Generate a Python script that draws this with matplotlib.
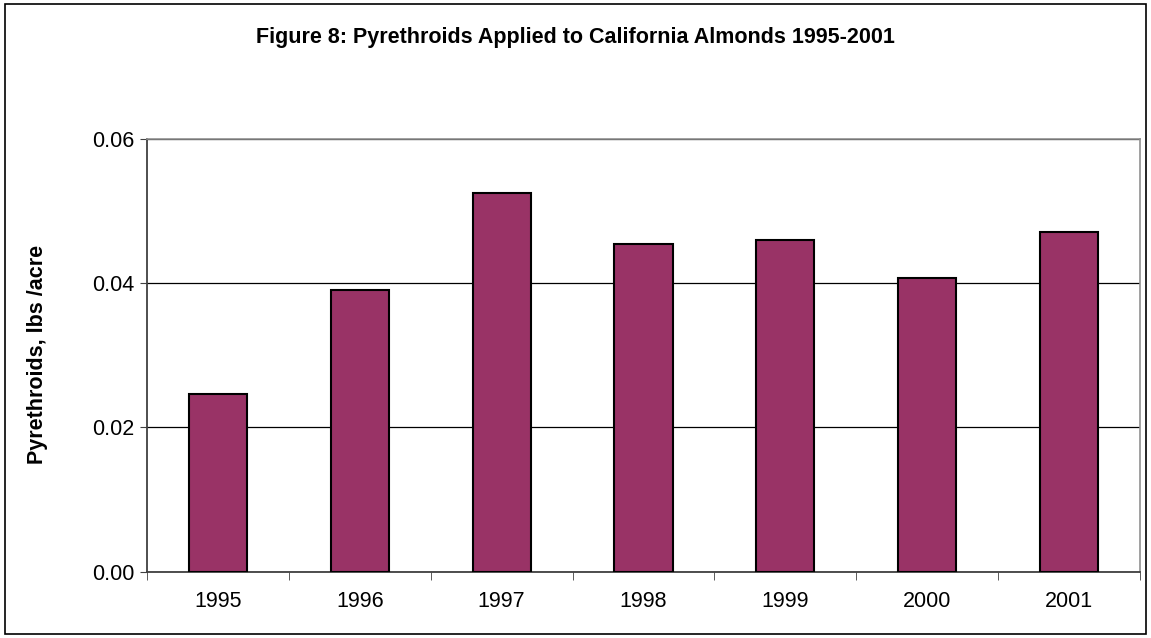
import matplotlib
matplotlib.use("Agg")
import matplotlib.pyplot as plt
from matplotlib.patches import Rectangle
import numpy as np

years = ["1995", "1996", "1997", "1998", "1999", "2000", "2001"]
values = [0.0246, 0.0390, 0.0525, 0.0454, 0.0460, 0.0407, 0.0471]
yticks = [0.00, 0.02, 0.04, 0.06]
ytick_labels = ["0.00", "0.02", "0.04", "0.06"]

plt.rcParams['font.family'] = ['Liberation Sans', 'DejaVu Sans']

W, H = 1151, 638
fig = plt.figure(figsize=(W/100, H/100), dpi=100)
fig.patch.set_facecolor('white')

# outer border
fig.add_artist(Rectangle((5/W, 1 - 634/H), (1146-5)/W, (634-4)/H,
                         transform=fig.transFigure, fill=False,
                         edgecolor='black', linewidth=1.2))

left, right, top, bottom = 147, 1140, 139, 571.5
ax = fig.add_axes([left/W, 1 - bottom/H, (right-left)/W, (bottom-top)/H])

x = np.arange(len(years))
ax.bar(x, values, width=0.41, color='#993366', edgecolor='black', linewidth=1.5, zorder=3)

ax.set_xlim(-0.5, len(years) - 0.5)
ax.set_ylim(0, 0.06)
ax.set_yticks(yticks)
ax.set_yticklabels(ytick_labels, fontsize=15.5)
ax.set_xticks(x)
ax.set_xticklabels(years, fontsize=15.5)
ax.tick_params(axis='x', length=0, pad=14)
ax.set_xticks(np.arange(-0.5, len(years) + 0.5, 1), minor=True)
ax.tick_params(axis='x', which='minor', length=6, direction='out', color='#404040')
ax.tick_params(axis='y', length=5, direction='out', color='#404040', pad=4)

ax.yaxis.grid(True, color='black', linewidth=0.9, zorder=0)
ax.set_axisbelow(True)

for s in ['top', 'right']:
    ax.spines[s].set_color('#909090')
    ax.spines[s].set_linewidth(1.2)
for s in ['left', 'bottom']:
    ax.spines[s].set_color('#404040')
    ax.spines[s].set_linewidth(1.3)

fig.text(38/W, 1 - 354/H, "Pyrethroids, lbs /acre", rotation=90,
         ha='center', va='center', fontsize=15.5, fontweight='bold')
fig.text(575/W, 1 - 37/H, "Figure 8: Pyrethroids Applied to California Almonds 1995-2001",
         ha='center', va='center', fontsize=15.5, fontweight='bold')

fig.savefig("out.png", dpi=100)
